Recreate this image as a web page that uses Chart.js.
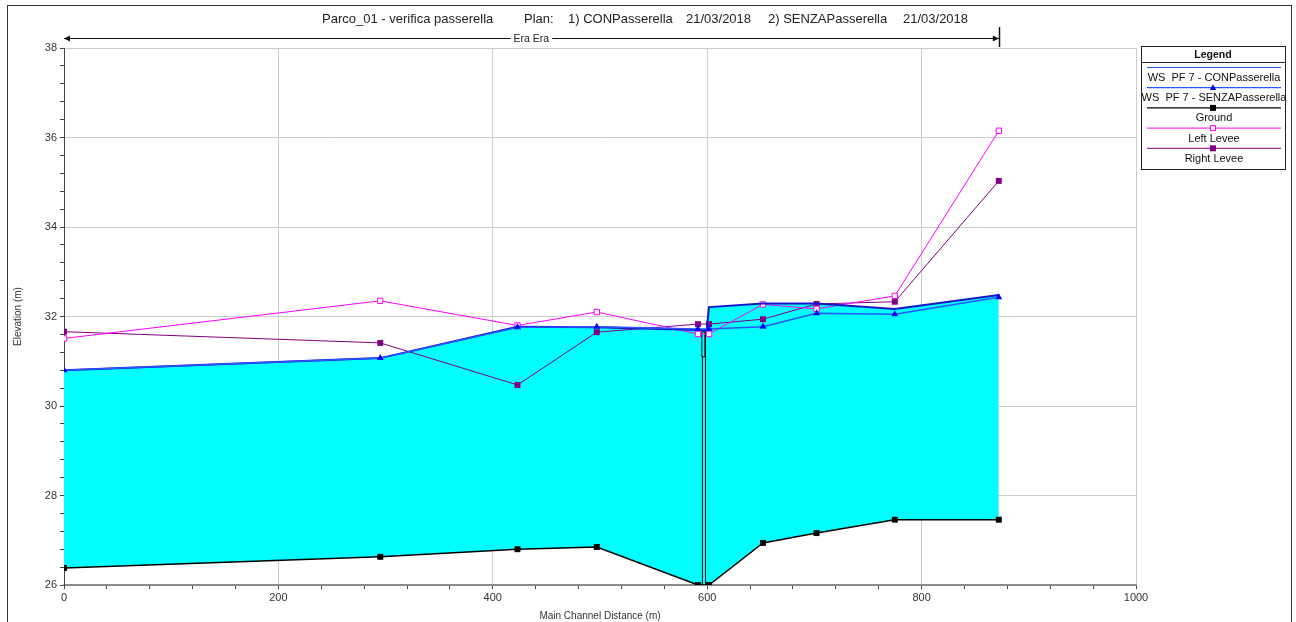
<!DOCTYPE html>
<html>
<head>
<meta charset="utf-8">
<script src="https://cdn.jsdelivr.net/npm/chart.js@4.4.1/dist/chart.umd.min.js"></script>
<style>
  html, body { margin: 0; padding: 0; background: #ffffff; }
  #wrap { width: 1296px; height: 622px; position: relative; }
</style>
</head>
<body>
<div id="wrap"><canvas id="profile" width="1296" height="622"></canvas></div>
<script>
// River stations along the main channel (m) and profile elevations (m)
const stations   = [0, 295, 423, 497, 591.4, 601.7, 652, 702, 775, 872];
const ground     = [26.38, 26.63, 26.80, 26.85, 26.00, 26.00, 26.94, 27.16, 27.46, 27.46];
const wsSenza    = [30.80, 31.07, 31.76, 31.77, 31.72, 31.72, 31.77, 32.07, 32.05, 32.43];
const leftLevee  = [31.51, 32.35, 31.80, 32.10, 31.61, 31.61, 32.27, 32.17, 32.46, 36.15];
const rightLevee = [31.66, 31.41, 30.47, 31.65, 31.83, 31.83, 31.94, 32.28, 32.33, 35.03];

// With-bridge plan has an extra section just upstream of the deck
const conStations = [0, 295, 423, 497, 591.4, 599.6, 601.7, 652, 702, 775, 872];
const wsCon       = [30.80, 31.07, 31.77, 31.76, 31.70, 31.70, 32.21, 32.29, 32.29, 32.17, 32.48];

// Bridge: deck extent, low/high chord, pier faces
const deckStations = [595.0, 598.2];
const deckChords   = [31.10, 31.66];
const pierStations = [595.6, 598.4];

// Reach marker "Era Era"
const reachStations = [0, 872];

const titleParts = [
  'Parco_01 - verifica passerella', 'Plan:', '1) CONPasserella', '21/03/2018',
  '2) SENZAPasserella', '21/03/2018'
];
const legendLabels = ['WS  PF 7 - CONPasserella', 'WS  PF 7 - SENZAPasserella', 'Ground', 'Left Levee', 'Right Levee'];

const xy = (xs, ys) => xs.map((x, i) => ({ x: x, y: ys[i] }));

const C_CON = '#1616c8';
const C_SENZA = '#2b55ff';
const C_LEFT = '#ff00ff';
const C_RIGHT = '#800080';
const C_WATER = '#00ffff';
const FONT = '"Liberation Sans", Arial, sans-serif';

function isMultiple(v, step) {
  const r = v / step;
  return Math.abs(r - Math.round(r)) < 1e-6;
}

const deckPts = [
  { x: deckStations[0], y: deckChords[0] }, { x: deckStations[0], y: deckChords[1] },
  { x: deckStations[1], y: deckChords[1] }, { x: deckStations[1], y: deckChords[0] },
  { x: deckStations[0], y: deckChords[0] }
];
const pierPts = [
  { x: pierStations[0], y: deckChords[0] }, { x: pierStations[0], y: ground[4] },
  { x: (pierStations[0] + pierStations[1]) / 2, y: null },
  { x: pierStations[1], y: ground[5] }, { x: pierStations[1], y: deckChords[0] }
];

function drawMarker(ctx, kind, x, y, color) {
  ctx.save();
  ctx.lineWidth = 1;
  if (kind === 'tri') {
    ctx.fillStyle = color;
    ctx.beginPath();
    ctx.moveTo(x, y - 3.5); ctx.lineTo(x + 3.2, y + 2.2); ctx.lineTo(x - 3.2, y + 2.2);
    ctx.closePath(); ctx.fill();
  } else if (kind === 'sq') {
    ctx.fillStyle = color;
    ctx.fillRect(x - 3, y - 3, 6, 6);
  } else if (kind === 'osq') {
    ctx.fillStyle = '#ffffff';
    ctx.strokeStyle = color;
    ctx.fillRect(x - 3, y - 3, 6, 6);
    ctx.strokeRect(x - 2.5, y - 2.5, 5, 5);
  }
  ctx.restore();
}

const decorations = {
  id: 'decorations',
  afterDraw(chart) {
    const ctx = chart.ctx;
    const xs = chart.scales.x;
    ctx.save();

    // outer frame
    ctx.strokeStyle = '#333333';
    ctx.lineWidth = 1;
    ctx.strokeRect(7.5, 5.5, 1284, 640);

    // title line
    ctx.fillStyle = '#222222';
    ctx.font = '13px ' + FONT;
    ctx.textBaseline = 'middle';
    ctx.textAlign = 'left';
    const titleX = [322, 524, 568, 686, 768, 903];
    titleParts.forEach((t, i) => ctx.fillText(t, titleX[i], 19));

    // reach line with arrows
    const x0 = xs.getPixelForValue(reachStations[0]);
    const x1 = xs.getPixelForValue(reachStations[1]);
    const ry = 38.5;
    ctx.strokeStyle = '#111111';
    ctx.fillStyle = '#111111';
    ctx.beginPath(); ctx.moveTo(x0, ry); ctx.lineTo(x1, ry); ctx.stroke();
    ctx.beginPath(); ctx.moveTo(x0, ry); ctx.lineTo(x0 + 6, ry - 3); ctx.lineTo(x0 + 6, ry + 3); ctx.closePath(); ctx.fill();
    ctx.beginPath(); ctx.moveTo(x1, ry); ctx.lineTo(x1 - 6, ry - 3); ctx.lineTo(x1 - 6, ry + 3); ctx.closePath(); ctx.fill();
    ctx.lineWidth = 1.5;
    ctx.beginPath(); ctx.moveTo(Math.round(x1) + 0.5, 27); ctx.lineTo(Math.round(x1) + 0.5, 47); ctx.stroke();
    ctx.font = '10.5px ' + FONT;
    ctx.textAlign = 'center';
    const label = 'Era Era';
    const cx = (x0 + x1) / 2;
    const w = ctx.measureText(label).width;
    ctx.fillStyle = '#ffffff';
    ctx.fillRect(cx - w / 2 - 3, ry - 6, w + 6, 12);
    ctx.fillStyle = '#222222';
    ctx.fillText(label, cx, ry + 1);

    // legend box
    const L = 1141, R = 1285, T = 46, B = 169;
    ctx.fillStyle = '#ffffff';
    ctx.fillRect(L, T, R - L, B - T);
    ctx.lineWidth = 1;
    ctx.strokeStyle = '#222222';
    ctx.strokeRect(L + 0.5, T + 0.5, R - L, B - T);
    ctx.beginPath(); ctx.moveTo(L, 62.5); ctx.lineTo(R, 62.5); ctx.stroke();
    ctx.fillStyle = '#111111';
    ctx.font = 'bold 10.5px ' + FONT;
    ctx.fillText('Legend', (L + R) / 2, 55);

    const mid = (L + R) / 2;
    const items = [
      { color: C_SENZA, w: 1.2, marker: null, mc: null },
      { color: C_SENZA, w: 1.2, marker: 'tri', mc: '#0000ff' },
      { color: '#000000', w: 1.2, marker: 'sq', mc: '#000000' },
      { color: C_LEFT, w: 1, marker: 'osq', mc: C_LEFT },
      { color: C_RIGHT, w: 1, marker: 'sq', mc: C_RIGHT }
    ];
    ctx.font = '11px ' + FONT;
    items.forEach((it, i) => {
      const ly = 67.5 + i * 20.2;
      ctx.strokeStyle = it.color;
      ctx.lineWidth = it.w;
      ctx.beginPath(); ctx.moveTo(L + 6, ly); ctx.lineTo(R - 4, ly); ctx.stroke();
      if (it.marker) drawMarker(ctx, it.marker, mid, ly, it.mc);
      ctx.fillStyle = '#111111';
      ctx.fillText(legendLabels[i], mid + 1, ly + 10.5);
    });

    ctx.restore();
  }
};

new Chart(document.getElementById('profile'), {
  type: 'line',
  data: {
    datasets: [
      {
        label: legendLabels[1], data: xy(stations, wsSenza), order: 0,
        borderColor: C_SENZA, borderWidth: 1.5, fill: false,
        pointStyle: 'triangle', pointRadius: 4, pointBackgroundColor: '#0000ff', pointBorderColor: '#0000ff', pointBorderWidth: 0
      },
      {
        label: legendLabels[0], data: xy(conStations, wsCon), order: 1,
        borderColor: C_CON, borderWidth: 2, pointRadius: 0,
        fill: { target: 2 }, backgroundColor: C_WATER
      },
      {
        label: legendLabels[2], data: xy(stations, ground), order: 2,
        borderColor: '#000000', borderWidth: 1.5, fill: false,
        pointStyle: 'rect', pointRadius: 4.2, pointBackgroundColor: '#000000', pointBorderColor: '#000000', pointBorderWidth: 0
      },
      {
        label: legendLabels[3], data: xy(stations, leftLevee), order: 3,
        borderColor: C_LEFT, borderWidth: 1, fill: false,
        pointStyle: 'rect', pointRadius: 3.8, pointBackgroundColor: '#ffffff', pointBorderColor: C_LEFT, pointBorderWidth: 1
      },
      {
        label: legendLabels[4], data: xy(stations, rightLevee), order: 4,
        borderColor: C_RIGHT, borderWidth: 1, fill: false,
        pointStyle: 'rect', pointRadius: 4.2, pointBackgroundColor: C_RIGHT, pointBorderColor: C_RIGHT, pointBorderWidth: 0
      },
      {
        label: 'deck', data: deckPts, order: 5,
        borderColor: '#000000', borderWidth: 1, pointRadius: 0,
        fill: 'shape', backgroundColor: '#555555'
      },
      {
        label: 'piers', data: pierPts, order: 6, spanGaps: false,
        borderColor: '#111111', borderWidth: 1, pointRadius: 0, fill: false
      }
    ]
  },
  options: {
    responsive: false,
    animation: false,
    devicePixelRatio: 1,
    layout: { padding: { top: 48, right: 160, left: 0, bottom: 0 } },
    elements: { line: { tension: 0 } },
    plugins: {
      legend: { display: false },
      tooltip: { enabled: false },
      filler: { drawTime: 'beforeDatasetsDraw', propagate: false }
    },
    scales: {
      x: {
        type: 'linear', min: 0, max: 1000,
        afterFit: s => { s.height = 37; },
        ticks: {
          stepSize: 40, autoSkip: false, maxRotation: 0, padding: 2,
          color: '#333333', font: { size: 11, family: FONT },
          callback: v => isMultiple(v, 200) ? String(Math.round(v)) : ''
        },
        grid: {
          drawOnChartArea: true, drawTicks: true, tickLength: 4,
          color: ctx => (ctx.tick && isMultiple(ctx.tick.value, 200) && ctx.tick.value !== 0) ? '#cccccc' : 'rgba(0,0,0,0)',
          tickColor: '#444444', lineWidth: 1
        },
        border: { display: true, color: '#8a8a8a', width: 2 },
        title: {
          display: true, text: 'Main Channel Distance (m)', color: '#333333',
          font: { size: 10, family: FONT },
          padding: { top: 1, bottom: 0 }
        }
      },
      y: {
        type: 'linear', min: 26, max: 38,
        afterFit: s => { s.width = 64; },
        ticks: {
          stepSize: 0.4, autoSkip: false, padding: 3,
          color: '#333333', font: { size: 11, family: FONT },
          callback: v => isMultiple(v, 2) ? String(Math.round(v)) : ''
        },
        grid: {
          drawOnChartArea: true, drawTicks: true, tickLength: 4,
          color: ctx => (ctx.tick && isMultiple(ctx.tick.value, 2) && Math.abs(ctx.tick.value - 26) > 1e-6) ? '#cccccc' : 'rgba(0,0,0,0)',
          tickColor: '#444444', lineWidth: 1
        },
        border: { display: true, color: '#444444', width: 1 },
        title: {
          display: true, text: 'Elevation (m)', color: '#333333',
          font: { size: 10, family: FONT },
          padding: { top: 12, bottom: 0 }
        }
      }
    }
  },
  plugins: [decorations]
});
</script>
</body>
</html>
